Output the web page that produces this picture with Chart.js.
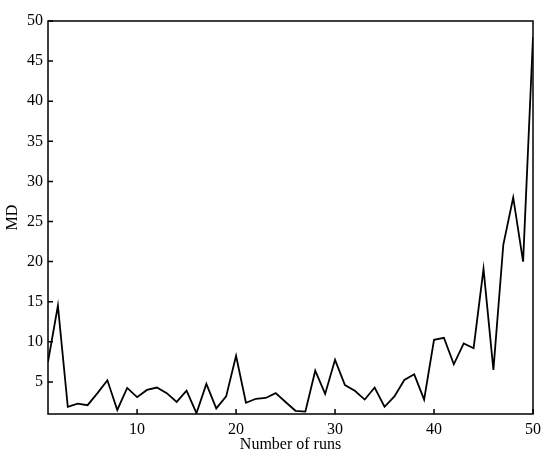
<!DOCTYPE html>
<html>
<head>
<meta charset="utf-8">
<script src="https://cdn.jsdelivr.net/npm/chart.js@4/dist/chart.umd.min.js"></script>
<style>
  html, body { margin: 0; padding: 0; background: #fff; }
  #wrap { width: 550px; height: 463px; }
</style>
</head>
<body>
<div id="wrap"><canvas id="chart"></canvas></div>
<script>
var runs = [];
for (var i = 1; i <= 50; i++) runs.push(i);

var mdValues = [
    7.5, 14.5, 1.9, 2.3, 2.1, 3.6, 5.2, 1.5, 4.25, 3.1,
    4.0, 4.3, 3.6, 2.5, 3.9, 1.1, 4.75, 1.7, 3.2, 8.25,
    2.4, 2.9, 3.0, 3.6, 2.5, 1.4, 1.3, 6.4, 3.5, 7.75,
    4.6, 3.9, 2.8, 4.3, 1.9, 3.2, 5.25, 5.95, 2.8, 10.25,
    10.5, 7.2, 9.8, 9.2, 19.1, 6.5, 22.1, 28.0, 20.0, 48.0
];

var xTicks = [10, 20, 30, 40, 50];
var yTicks = [5, 10, 15, 20, 25, 30, 35, 40, 45, 50];

var font = "'Liberation Serif', 'Times New Roman', serif";

// inward ticks + closed frame
var frame = {
    id: 'frame',
    afterDraw: function (chart) {
        var c = chart.ctx, a = chart.chartArea;
        var xs = chart.scales.x, ys = chart.scales.y;
        c.save();
        c.strokeStyle = '#000';
        c.lineWidth = 1.5;
        c.strokeRect(a.left, a.top, a.right - a.left, a.bottom - a.top);
        c.beginPath();
        xTicks.forEach(function (v) {
            var px = xs.getPixelForValue(v);
            c.moveTo(px, a.bottom);
            c.lineTo(px, a.bottom - 5);
        });
        yTicks.forEach(function (v) {
            var py = ys.getPixelForValue(v);
            c.moveTo(a.left, py);
            c.lineTo(a.left + 5, py);
        });
        c.stroke();
        c.restore();
    }
};

new Chart(document.getElementById('chart'), {
    type: 'line',
    data: {
        labels: runs,
        datasets: [{
            label: 'MD',
            data: mdValues.map(function (v, k) { return { x: runs[k], y: v }; }),
            borderColor: '#000',
            borderWidth: 1.8,
            pointRadius: 0,
            fill: false,
            tension: 0
        }]
    },
    options: {
        responsive: true,
        maintainAspectRatio: false,
        animation: false,
        layout: { padding: { top: 21, right: 17, left: 0, bottom: 0 } },
        plugins: {
            legend: { display: false },
            tooltip: { enabled: false }
        },
        scales: {
            x: {
                type: 'linear',
                min: 1,
                max: 50,
                afterBuildTicks: function (s) { s.ticks = xTicks.map(function (v) { return { value: v }; }); },
                afterFit: function (s) { s.height = 49; },
                grid: { display: false, drawTicks: false, tickLength: 0 },
                border: { display: false },
                ticks: { color: '#000', padding: 6, maxRotation: 0, font: { family: font, size: 16 } },
                title: {
                    display: true,
                    text: 'Number of runs',
                    color: '#000',
                    padding: { top: 0, bottom: 9 },
                    font: { family: font, size: 16 }
                }
            },
            y: {
                min: 1,
                max: 50,
                afterBuildTicks: function (s) { s.ticks = yTicks.map(function (v) { return { value: v }; }); },
                afterFit: function (s) { s.width = 48; },
                grid: { display: false, drawTicks: false, tickLength: 0 },
                border: { display: false },
                ticks: { color: '#000', padding: 5, font: { family: font, size: 16 } },
                title: {
                    display: true,
                    text: 'MD',
                    color: '#000',
                    padding: { top: 3, bottom: 0 },
                    font: { family: font, size: 16 }
                }
            }
        }
    },
    plugins: [frame]
});
</script>
</body>
</html>
